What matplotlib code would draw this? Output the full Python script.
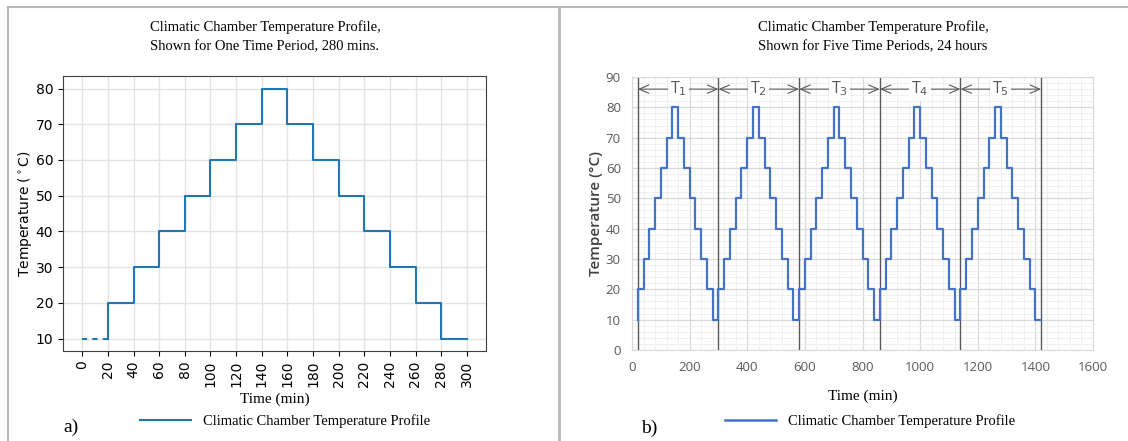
import matplotlib; matplotlib.use("Agg")
import matplotlib.pyplot as plt
from matplotlib.lines import Line2D
from matplotlib.ticker import MultipleLocator

# one period (a): step starts and temperatures
A_TIMES = [20, 20, 40, 60, 80, 100, 120, 140, 160, 180, 200, 220, 240, 260, 280, 300]
A_TEMPS = [10, 20, 30, 40, 50, 60, 70, 80, 70, 60, 50, 40, 30, 20, 10, 10]
A_DASH_T = [0, 20]
A_DASH_Y = [10, 10]
A_XTICKS = list(range(0, 301, 20))
A_YTICKS = [10, 20, 30, 40, 50, 60, 70, 80]

# five periods (b)
B_PERIOD_STARTS = [20, 300, 580, 860, 1140]
B_STEP_OFFSETS = [0, 20, 40, 60, 80, 100, 120, 140, 160, 180, 200, 220, 240, 260]
B_STEP_TEMPS = [20, 30, 40, 50, 60, 70, 80, 70, 60, 50, 40, 30, 20, 10]
B_BOUNDS = [20, 300, 580, 860, 1140, 1420]
B_LABELS = ["T$_1$", "T$_2$", "T$_3$", "T$_4$", "T$_5$"]

SERIF = "Liberation Serif"
GRAY = "#595959"
W, H = 1128, 441

fig = plt.figure(figsize=(W/100, H/100), dpi=100)

# panel frames
fig.add_artist(Line2D([8/W, 1], [1-7/H, 1-7/H], color="#b8b8b8", lw=1.5))
fig.add_artist(Line2D([8/W, 8/W], [0, 1-7/H], color="#b8b8b8", lw=1.5))
fig.add_artist(Line2D([559/W, 559/W], [0, 1-7/H], color="#b8b8b8", lw=2))

# ---------- a) ----------
ax = fig.add_axes([63/W, 1-351/H, (486-63)/W, (351-76)/H])
ax.step(A_TIMES, A_TEMPS, where="post", color="#1f77b4", lw=1.5)
ax.plot(A_DASH_T, A_DASH_Y, color="#1f77b4", lw=1.5, ls=(0, (2.5, 2.5)))
ax.set_xticks(A_XTICKS)
ax.set_yticks(A_YTICKS)
ax.tick_params(axis="x", rotation=90, labelsize=10)
ax.tick_params(axis="y", labelsize=10)
ax.grid(True, color="#e3e3e3", lw=1)
ax.set_axisbelow(True)
for s in ax.spines.values():
    s.set_color("#404040")
ax.set_ylabel(r"Temperature ($^\circ$C)", fontsize=10, labelpad=1)
ax.set_xlabel("Time (min)", family=SERIF, fontsize=11, labelpad=4)
fig.text(265/W, 1-37/H, "Climatic Chamber Temperature Profile,\nShown for One Time Period, 280 mins.",
         ha="center", va="center", family=SERIF, fontsize=10.5, linespacing=1.6)
fig.text(71/W, 1-427/H, "a)", ha="center", va="center", family=SERIF, fontsize=14)
fig.legend([Line2D([], [], color="#1f77b4", lw=1.5)], ["Climatic Chamber Temperature Profile"],
           loc="center", bbox_to_anchor=(285/W, 1-421/H), frameon=False,
           prop={"family": SERIF, "size": 10.5}, handlelength=3.5)

# ---------- b) ----------
bx = fig.add_axes([632/W, 1-350/H, (1093-632)/W, (350-77)/H])
bt = [B_PERIOD_STARTS[0]]; by = [10]
for s in B_PERIOD_STARTS:
    bt += [s + o for o in B_STEP_OFFSETS]
    by += B_STEP_TEMPS
bt.append(B_BOUNDS[-1]); by.append(10)
bx.step(bt, by, where="post", color="#4472C4", lw=1.6, zorder=3)
for b in B_BOUNDS:
    bx.plot([b, b], [0, 90], color=GRAY, lw=1, zorder=2)
for i, lab in enumerate(B_LABELS):
    x0, x1 = B_BOUNDS[i], B_BOUNDS[i+1]
    bx.annotate("", xy=(x1, 86), xytext=(x0, 86),
                arrowprops=dict(arrowstyle="<->,head_length=0.7,head_width=0.3",
                                color=GRAY, lw=0.8, shrinkA=0, shrinkB=0), zorder=4)
    bx.text((x0+x1)/2, 86, lab, ha="center", va="center", color=GRAY, fontsize=11.5,
            family="Open Sans", zorder=5,
            bbox=dict(fc="white", ec="none", pad=1.5))
bx.set_xlim(0, 1600)
bx.set_ylim(0, 90)
bx.xaxis.set_major_locator(MultipleLocator(200))
bx.yaxis.set_major_locator(MultipleLocator(10))
bx.xaxis.set_minor_locator(MultipleLocator(40))
bx.yaxis.set_minor_locator(MultipleLocator(2))
bx.grid(True, which="major", color="#d9d9d9", lw=0.9)
bx.grid(True, which="minor", color="#eeeeee", lw=0.6)
bx.set_axisbelow(True)
bx.tick_params(which="both", length=0, labelsize=9.5, labelcolor=GRAY, pad=8)
for t in bx.get_xticklabels() + bx.get_yticklabels():
    t.set_family("Open Sans")
for s in bx.spines.values():
    s.set_color("#d9d9d9")
bx.set_ylabel("Temperature (°C)", family="Open Sans", fontsize=11, color="#404040",
              fontweight="semibold", labelpad=2)
bx.set_xlabel("Time (min)", family=SERIF, fontsize=11, labelpad=11)
fig.text(873/W, 1-37/H, "Climatic Chamber Temperature Profile,\nShown for Five Time Periods, 24 hours",
         ha="center", va="center", family=SERIF, fontsize=10.5, linespacing=1.6)
fig.text(649/W, 1-428/H, "b)", ha="center", va="center", family=SERIF, fontsize=14)
fig.legend([Line2D([], [], color="#4472C4", lw=1.8)], ["Climatic Chamber Temperature Profile"],
           loc="center", bbox_to_anchor=(870/W, 1-421/H), frameon=False,
           prop={"family": SERIF, "size": 10.5}, handlelength=3.5)

fig.savefig("out.png", dpi=100, facecolor="white")
